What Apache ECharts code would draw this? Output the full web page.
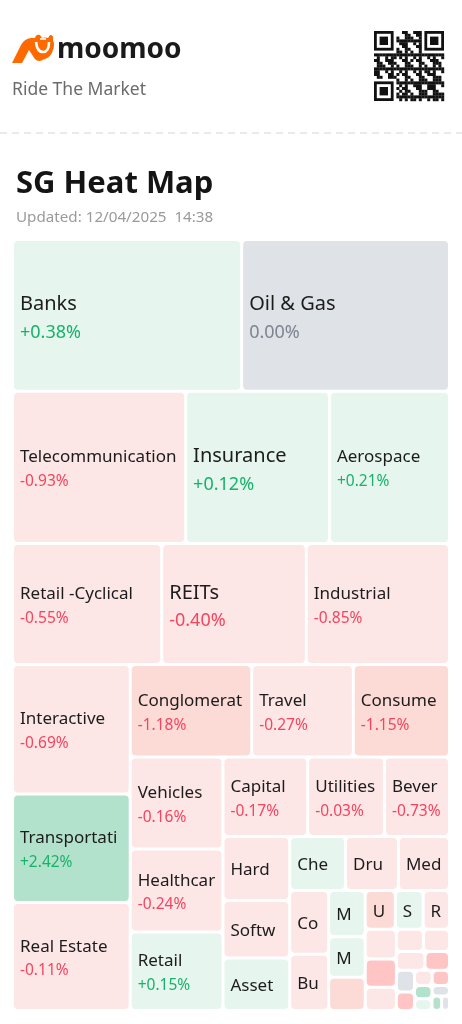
<!DOCTYPE html>
<html><head><meta charset="utf-8">
<script src="https://cdn.jsdelivr.net/npm/echarts@6/dist/echarts.min.js"></script>
<style>
html,body{margin:0;padding:0;background:#fff;}
body{width:462px;height:1024px;position:relative;overflow:hidden;font-family:"Noto Sans",sans-serif;}
#chart{position:absolute;left:0;top:0;width:462px;height:1024px;}
#head{position:absolute;left:0;top:0;}
</style></head><body>
<div id="chart"></div>
<svg id="head" width="462" height="236" xmlns="http://www.w3.org/2000/svg">
  <g transform="translate(12,34)">
    <path d="M0,29 L9,11 Q12,5 19,4 L23,4 Q24,0 28,1 L30,4 Q33,3 36,4 L38,1 Q42,1 41,6 Q43,11 41,16 Q39,23 33,25 L28,27 Q23,27 21,22 L17,16 L10,29 Z" fill="#ff6a00"/>
    <path d="M24,8 Q25,18 31,18 Q37,18 37,8" fill="none" stroke="#fff" stroke-width="2.6"/>
    <path d="M28,5 L34,5" stroke="#fff" stroke-width="1.6"/>
  </g>
  <text x="57" y="58" font-family="Noto Sans" font-weight="700" font-size="28" fill="#1a1a1a">moomoo</text>
  <text x="12" y="95" font-family="Noto Sans" font-size="17.5" fill="#6b6b6b">Ride The Market</text>
  <g id="qr"></g>
  <line x1="0" y1="133" x2="462" y2="133" stroke="#e3e3e3" stroke-width="1.3" stroke-dasharray="7 5"/>
  <text x="16" y="193" font-family="Noto Sans" font-weight="700" font-size="31" fill="#141414">SG Heat Map</text>
  <text x="16" y="222" font-family="Noto Sans" font-size="15.2" fill="#9a9a9a" xml:space="preserve">Updated: 12/04/2025  14:38</text>
</svg>
<script>
// ---- data ----
const names = ['Banks','Oil & Gas','Telecommunication','Insurance','Aerospace','Retail -Cyclical','REITs','Industrial',
  'Interactive','Transportati','Real Estate','Conglomerat','Travel','Consume','Vehicles','Healthcar','Retail',
  'Capital','Utilities','Bever','Hard','Softw','Asset','Che','Dru','Med','Co','Bu','M','M','','U','S','R',
  '','','','','','','','','','','','','','','',''];
const sizes = [34648,31425,26244,21799,18204,17969,17415,17246,
  15202,12704,12668,11196,9359,8861,8519,7658,7251,
  6717,6082,5155,4249,3829,3488,3010,2850,2755,2470,2180,1680,1480,1210,1161,1072,1018,
  918,877,722,595,573,540,463,391,335,265,261,230,205,185,139,114];
const changes = [0.38,0.00,-0.93,0.12,0.21,-0.55,-0.40,-0.85,
  -0.69,2.42,-0.11,-1.18,-0.27,-1.15,-0.16,-0.24,0.15,
  -0.17,-0.03,-0.73,-0.50,-0.40,0.30,0.20,-0.30,-0.50,-0.60,-0.40,0.50,0.30,-1.30,-1.20,0.40,-0.60,
  -0.50,-2.50,-0.40,-0.70,-0.60,-0.80,-2.20,0.00,-2.60,-0.50,-2.10,2.30,0.40,0.00,2.60,0.00];
const bigLabels = ['Banks','Oil & Gas','Insurance','REITs'];

// ---- header QR (decorative) ----
(function(){
  const g = document.getElementById('qr'); const N=25, s=70/N, ox=374, oy=31;
  let out='';
  const finder=(cx,cy)=>{ out+=`<rect x="${ox+cx*s}" y="${oy+cy*s}" width="${7*s}" height="${7*s}" fill="#111"/>`+
    `<rect x="${ox+(cx+1)*s}" y="${oy+(cy+1)*s}" width="${5*s}" height="${5*s}" fill="#fff"/>`+
    `<rect x="${ox+(cx+2)*s}" y="${oy+(cy+2)*s}" width="${3*s}" height="${3*s}" fill="#111"/>`; };
  for(let r=0;r<N;r++)for(let c=0;c<N;c++){
    const inF=(r<8&&c<8)||(r<8&&c>=N-8)||(r>=N-8&&c<8);
    if(inF) continue;
    if(((r*7+c*11+r*c*3)%5)<2 || ((r^c)%7===0)) out+=`<rect x="${ox+c*s}" y="${oy+r*s}" width="${s+0.2}" height="${s+0.2}" fill="#111"/>`;
  }
  finder(0,0); finder(N-7,0); finder(0,N-7);
  g.innerHTML = out;
})();

function fillColor(c){
  if(c===0) return '#dfe2e6';
  if(c>0) return c>=2 ? '#b3e2cc' : (c>=1 ? '#cdeedd' : '#e6f5ee');
  return c<=-2 ? '#ffc4c4' : (c<=-1 ? '#fcdad5' : '#fde6e6');
}
function fmt(c){ if(c===0) return '0.00%'; return (c>0?'+':'')+c.toFixed(2)+'%'; }

const data = names.map((n,i)=>({ name:n, value:sizes[i], change:changes[i], itemStyle:{color:fillColor(changes[i])} }));

const chart = echarts.init(document.getElementById('chart'), null, {renderer:'canvas'});
const F = '"Noto Sans", sans-serif';
chart.setOption({
  animation:false,
  series:[{
    type:'treemap', left:14, top:241, width:434, height:768,
    roam:false, nodeClick:false, breadcrumb:{show:false},
    squareRatio:1, visibleMin:0,
    itemStyle:{gapWidth:3, borderWidth:0, borderRadius:4, borderColor:'rgba(0,0,0,0)'},
    emphasis:{disabled:true},
    label:{
      show:true, position:'insideLeft', padding:[5,4,0,6], overflow:'truncate', ellipsis:'',
      formatter:function(p){
        const d=p.data; if(!d.name) return '';
        const lines = d.lines==null ? 2 : d.lines;
        if(lines===0) return '';
        const big = bigLabels.indexOf(d.name)>=0;
        const k = d.change>0?'Up':(d.change<0?'Dn':'Eq');
        const nm = '{'+(big?'nb':'n')+'|'+d.name+'}';
        if(lines===1) return nm;
        return nm+'\n{'+(big?'pb':'p')+k+'|'+fmt(d.change)+'}';
      },
      rich:{
        n:{fontFamily:F,fontSize:17,lineHeight:24,color:'#1c1c1c'},
        nb:{fontFamily:F,fontSize:20,lineHeight:28,color:'#1c1c1c'},
        pUp:{fontFamily:F,fontSize:15.5,lineHeight:24.6,color:'#17b26a'},
        pDn:{fontFamily:F,fontSize:15.5,lineHeight:24.6,color:'#f4455f'},
        pEq:{fontFamily:F,fontSize:15.5,lineHeight:24.6,color:'#7d8591'},
        pbUp:{fontFamily:F,fontSize:18,lineHeight:28.4,color:'#17b26a'},
        pbDn:{fontFamily:F,fontSize:18,lineHeight:28.4,color:'#f4455f'},
        pbEq:{fontFamily:F,fontSize:18,lineHeight:28.4,color:'#7d8591'}
      }
    },
    data:data
  }]
});

// centre each label vertically inside the cell that the treemap layout produced
(function(){
  try{
    const sd = chart.getModel().getSeriesByIndex(0).getData();
    const kids = sd.tree.root.children;
    const newData = data.map((d,i)=>{
      const lay = kids[i].getLayout();
      const h = lay.height;
      const big = bigLabels.indexOf(d.name)>=0;
      let lines = 0;
      if(d.name && h>=32) lines = 1;
      if(lines && h>=68) lines = 2;
      let padTop = 0;
      if(lines===2) padTop = big ? h/2-25 : h/2-21.8;
      else if(lines===1) padTop = h/2-12+1.8;
      return Object.assign({}, d, {lines:lines, label:{padding:[Math.max(0,padTop),4,0,6]}});
    });
    chart.setOption({series:[{data:newData}]});
  }catch(e){ console.error(e); }
})();
</script>
</body></html>
